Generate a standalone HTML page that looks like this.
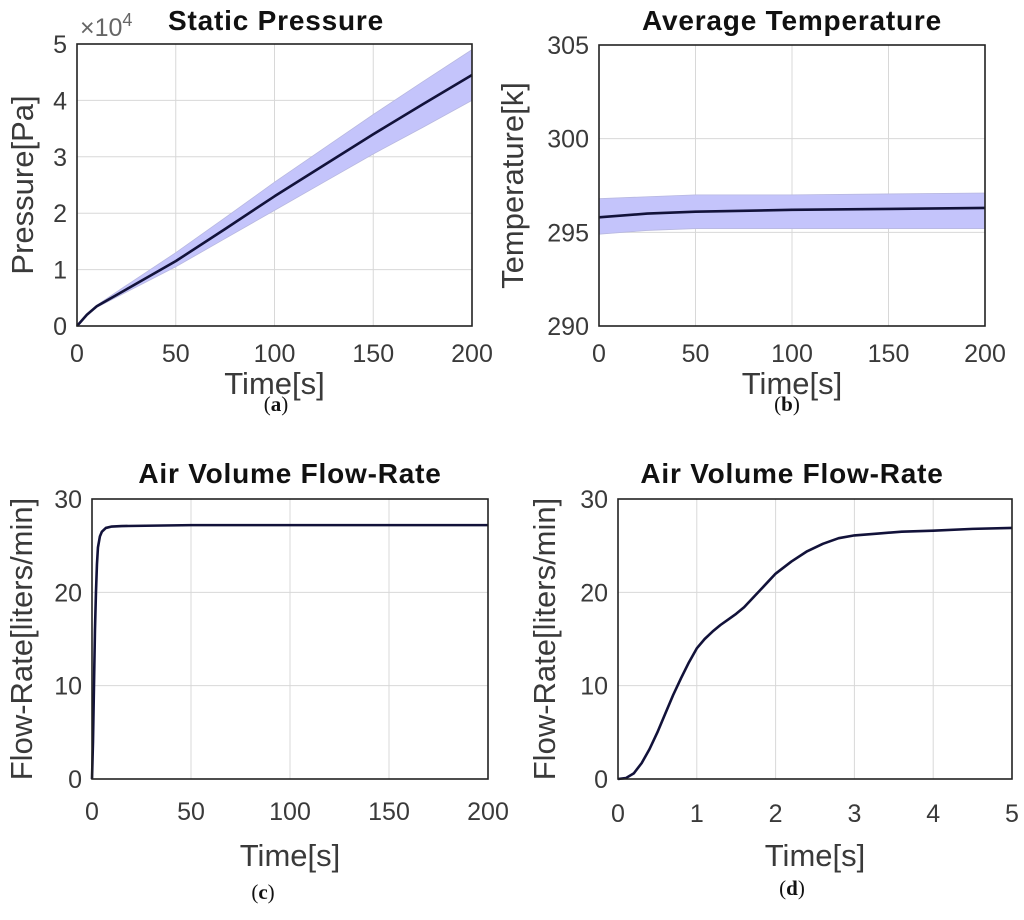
<!DOCTYPE html>
<html><head><meta charset="utf-8"><style>
body{margin:0;background:#fff;width:1024px;height:915px;overflow:hidden}
svg{font-family:"Liberation Sans",Arial,sans-serif}
.tk{font-size:25px;fill:#3a3a3a}
.ttl{font-size:28px;font-weight:bold;fill:#111;letter-spacing:0.8px}
.lab{font-size:31px;fill:#3a3a3a}
.cap{font-family:"Liberation Serif",serif;font-size:21px;fill:#111}
</style></head><body>
<svg id="fig" width="1024" height="915"></svg>
<script>
// Panel (a) data
const aT=[0,5,10,25,50,75,100,125,150,175,200];
const aMean=[0,0.2,0.35,0.65,1.15,1.72,2.3,2.85,3.4,3.93,4.45];
const aUp=[0,0.21,0.37,0.72,1.3,1.92,2.55,3.15,3.75,4.33,4.9];
const aLo=[0,0.19,0.33,0.6,1.05,1.55,2.05,2.55,3.05,3.52,4.0];
// Panel (b) data
const bT=[0,25,50,100,150,200];
const bMean=[295.8,296.0,296.1,296.2,296.25,296.3];
const bUp=[296.8,296.9,297.0,297.0,297.05,297.1];
const bLo=[294.9,295.1,295.2,295.2,295.2,295.2];
// Panel (c) data
const cT=[0,0.5,1,1.5,2,2.5,3,4,5,7,10,15,50,100,150,200];
const cV=[0,4,10,16,20,23,24.8,26,26.5,26.9,27.05,27.1,27.2,27.2,27.2,27.2];
// Panel (d) data
const dT=[0,0.1,0.2,0.3,0.4,0.5,0.6,0.7,0.8,0.9,1,1.1,1.2,1.3,1.4,1.5,1.6,1.7,1.8,1.9,2,2.2,2.4,2.6,2.8,3,3.3,3.6,4,4.5,5];
const dV=[0,0.1,0.6,1.7,3.2,5,7,9,10.8,12.5,14,15,15.8,16.5,17.1,17.7,18.4,19.3,20.2,21.1,22,23.3,24.4,25.2,25.8,26.1,26.3,26.5,26.6,26.8,26.9];
const xTicks200=[0,50,100,150,200];
const xTicks5=[0,1,2,3,4,5];
const aYTicks=[0,1,2,3,4,5];
const bYTicks=[290,295,300,305];
const cdYTicks=[0,10,20,30];

const NS="http://www.w3.org/2000/svg";
const svg=document.getElementById('fig');
function mk(tag,attrs,parent,text){const e=document.createElementNS(NS,tag);for(const k in attrs)e.setAttribute(k,attrs[k]);if(text!==undefined)e.textContent=text;(parent||svg).appendChild(e);return e;}

function panel(id,box,xd,yd,xt,yt,title,titleX,titleY,ylab,ylabX,xlabY,xtY,cap,capX,capY){
  const g=mk('g',{});
  
  
  const X=v=>box.x0+(v-xd[0])/(xd[1]-xd[0])*(box.x1-box.x0);
  const Y=v=>box.y1-(v-yd[0])/(yd[1]-yd[0])*(box.y1-box.y0);
  mk('rect',{x:box.x0,y:box.y0,width:box.x1-box.x0,height:box.y1-box.y0,fill:'#fff'},g);
  xt.forEach(v=>{const l=mk('line',{x1:X(v),x2:X(v),y1:box.y0,y2:box.y1,stroke:'#d8d8d8','stroke-width':1},g);
    
    const t=mk('text',{x:X(v),y:xtY,'text-anchor':'middle',class:'tk'},g,String(v));
    });
  yt.forEach((v,i)=>{const l=mk('line',{x1:box.x0,x2:box.x1,y1:Y(v),y2:Y(v),stroke:'#d8d8d8','stroke-width':1},g);
    
    const t=mk('text',{x:box.x0-10,y:Y(v)+9,'text-anchor':'end',class:'tk'},g,String(v));
    });
  const tt=mk('text',{x:titleX,y:titleY,'text-anchor':'middle',class:'ttl'},g,title);
  
  const yl=mk('text',{x:0,y:0,'text-anchor':'middle',class:'lab',transform:`translate(${ylabX},${(box.y0+box.y1)/2}) rotate(-90)`},g,ylab);
  
  const xl=mk('text',{x:(box.x0+box.x1)/2,y:xlabY,'text-anchor':'middle',class:'lab'},g,'Time[s]');
  
  const c=mk('text',{x:capX,y:capY,'text-anchor':'middle',class:'cap'},g,'(');
  
  mk('tspan',{'font-weight':'bold'},c,cap);mk('tspan',{},c,')');
  return {g,X,Y,box};
}
function band(p,t,up,lo){
  let d='M'+t.map((v,i)=>p.X(v)+','+p.Y(up[i])).join('L');
  for(let i=t.length-1;i>=0;i--)d+='L'+p.X(t[i])+','+p.Y(lo[i]);
  const e=mk('path',{d:d+'Z',fill:'#c4c4fb',stroke:'#b8b8e0','stroke-width':0.8},p.g);
  
}
function line(p,t,v){
  const e=mk('path',{d:'M'+t.map((x,i)=>p.X(x)+','+p.Y(v[i])).join('L'),fill:'none',stroke:'#12123a','stroke-width':2.6,'stroke-linejoin':'round'},p.g);
  
}
function frame(p){const b=p.box;const r=mk('rect',{x:b.x0,y:b.y0,width:b.x1-b.x0,height:b.y1-b.y0,fill:'none',stroke:'#222','stroke-width':1.6},p.g);
  }

const pa=panel('panel-a-static-pressure',{x0:77,x1:472,y0:44,y1:326},[0,200],[0,5],xTicks200,aYTicks,'Static Pressure',276,30,'Pressure[Pa]',33,394,362,'a',276,411);
band(pa,aT,aUp,aLo);line(pa,aT,aMean);frame(pa);
const ex=mk('text',{x:80,y:36,class:'tk',style:'fill:#666'},pa.g,'×10');
mk('tspan',{dy:-10,'font-size':18},ex,'4');

const pb=panel('panel-b-average-temperature',{x0:599,x1:985,y0:45,y1:326},[0,200],[290,305],xTicks200,bYTicks,'Average Temperature',792,30,'Temperature[k]',523,394,362,'b',787,411);
band(pb,bT,bUp,bLo);line(pb,bT,bMean);frame(pb);

const pc=panel('panel-c-flow-rate-200s',{x0:92,x1:488,y0:499,y1:779},[0,200],[0,30],xTicks200,cdYTicks,'Air Volume Flow-Rate',290,483,'Flow-Rate[liters/min]',32,866,820,'c',263,899);
line(pc,cT,cV);frame(pc);

const pd=panel('panel-d-flow-rate-5s',{x0:618,x1:1012,y0:499,y1:779},[0,5],[0,30],xTicks5,cdYTicks,'Air Volume Flow-Rate',792,483,'Flow-Rate[liters/min]',555,866,822,'d',792,895);
line(pd,dT,dV);frame(pd);
</script>
</body></html>
